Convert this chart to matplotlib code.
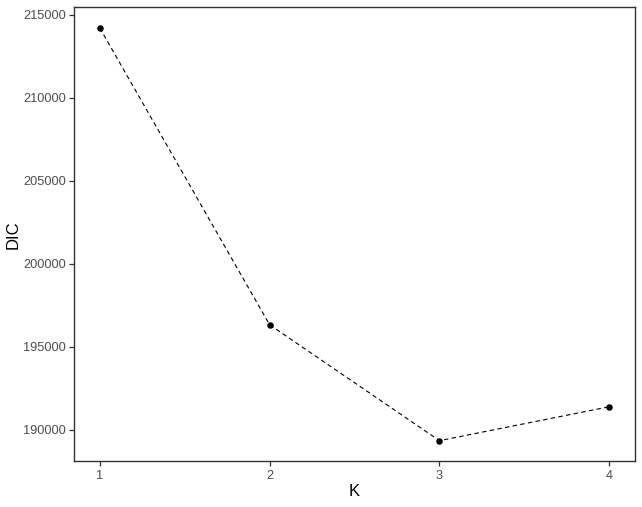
import matplotlib
matplotlib.use("Agg")
import matplotlib.pyplot as plt

K = [1, 2, 3, 4]
DIC = [214199, 196318, 189335, 191381]
yticks = [190000, 195000, 200000, 205000, 210000, 215000]
xticks = [1, 2, 3, 4]

plt.rcParams['font.family'] = ['Liberation Sans', 'DejaVu Sans']

fig = plt.figure(figsize=(6.42, 5.07), dpi=100)
ax = fig.add_axes([0.1157, 0.0901, 0.9888 - 0.1157, 0.9856 - 0.0901])
ax.plot(K, DIC, linestyle=(0, (4, 3)), color='black', linewidth=0.8, zorder=2)
ax.scatter(K, DIC, s=22, color='black', zorder=3, linewidths=0)

ax.set_xlim(0.85, 4.15)
rng = max(DIC) - min(DIC)
ax.set_ylim(min(DIC) - 0.05 * rng, max(DIC) + 0.05 * rng)
ax.set_xticks(xticks)
ax.set_xticklabels([str(k) for k in xticks])
ax.set_yticks(yticks)
ax.set_yticklabels([str(v) for v in yticks])
ax.tick_params(axis='both', colors='#333333', labelcolor='#4D4D4D', labelsize=9.2,
               length=3.5, width=0.9, direction='out', pad=2.5)
for s in ax.spines.values():
    s.set_color('#333333')
    s.set_linewidth(1.0)
ax.set_xlabel('K', fontsize=12, color='black', labelpad=2)
ax.set_ylabel('DIC', fontsize=12, color='black', labelpad=2)
fig.savefig('out.png', dpi=100)
